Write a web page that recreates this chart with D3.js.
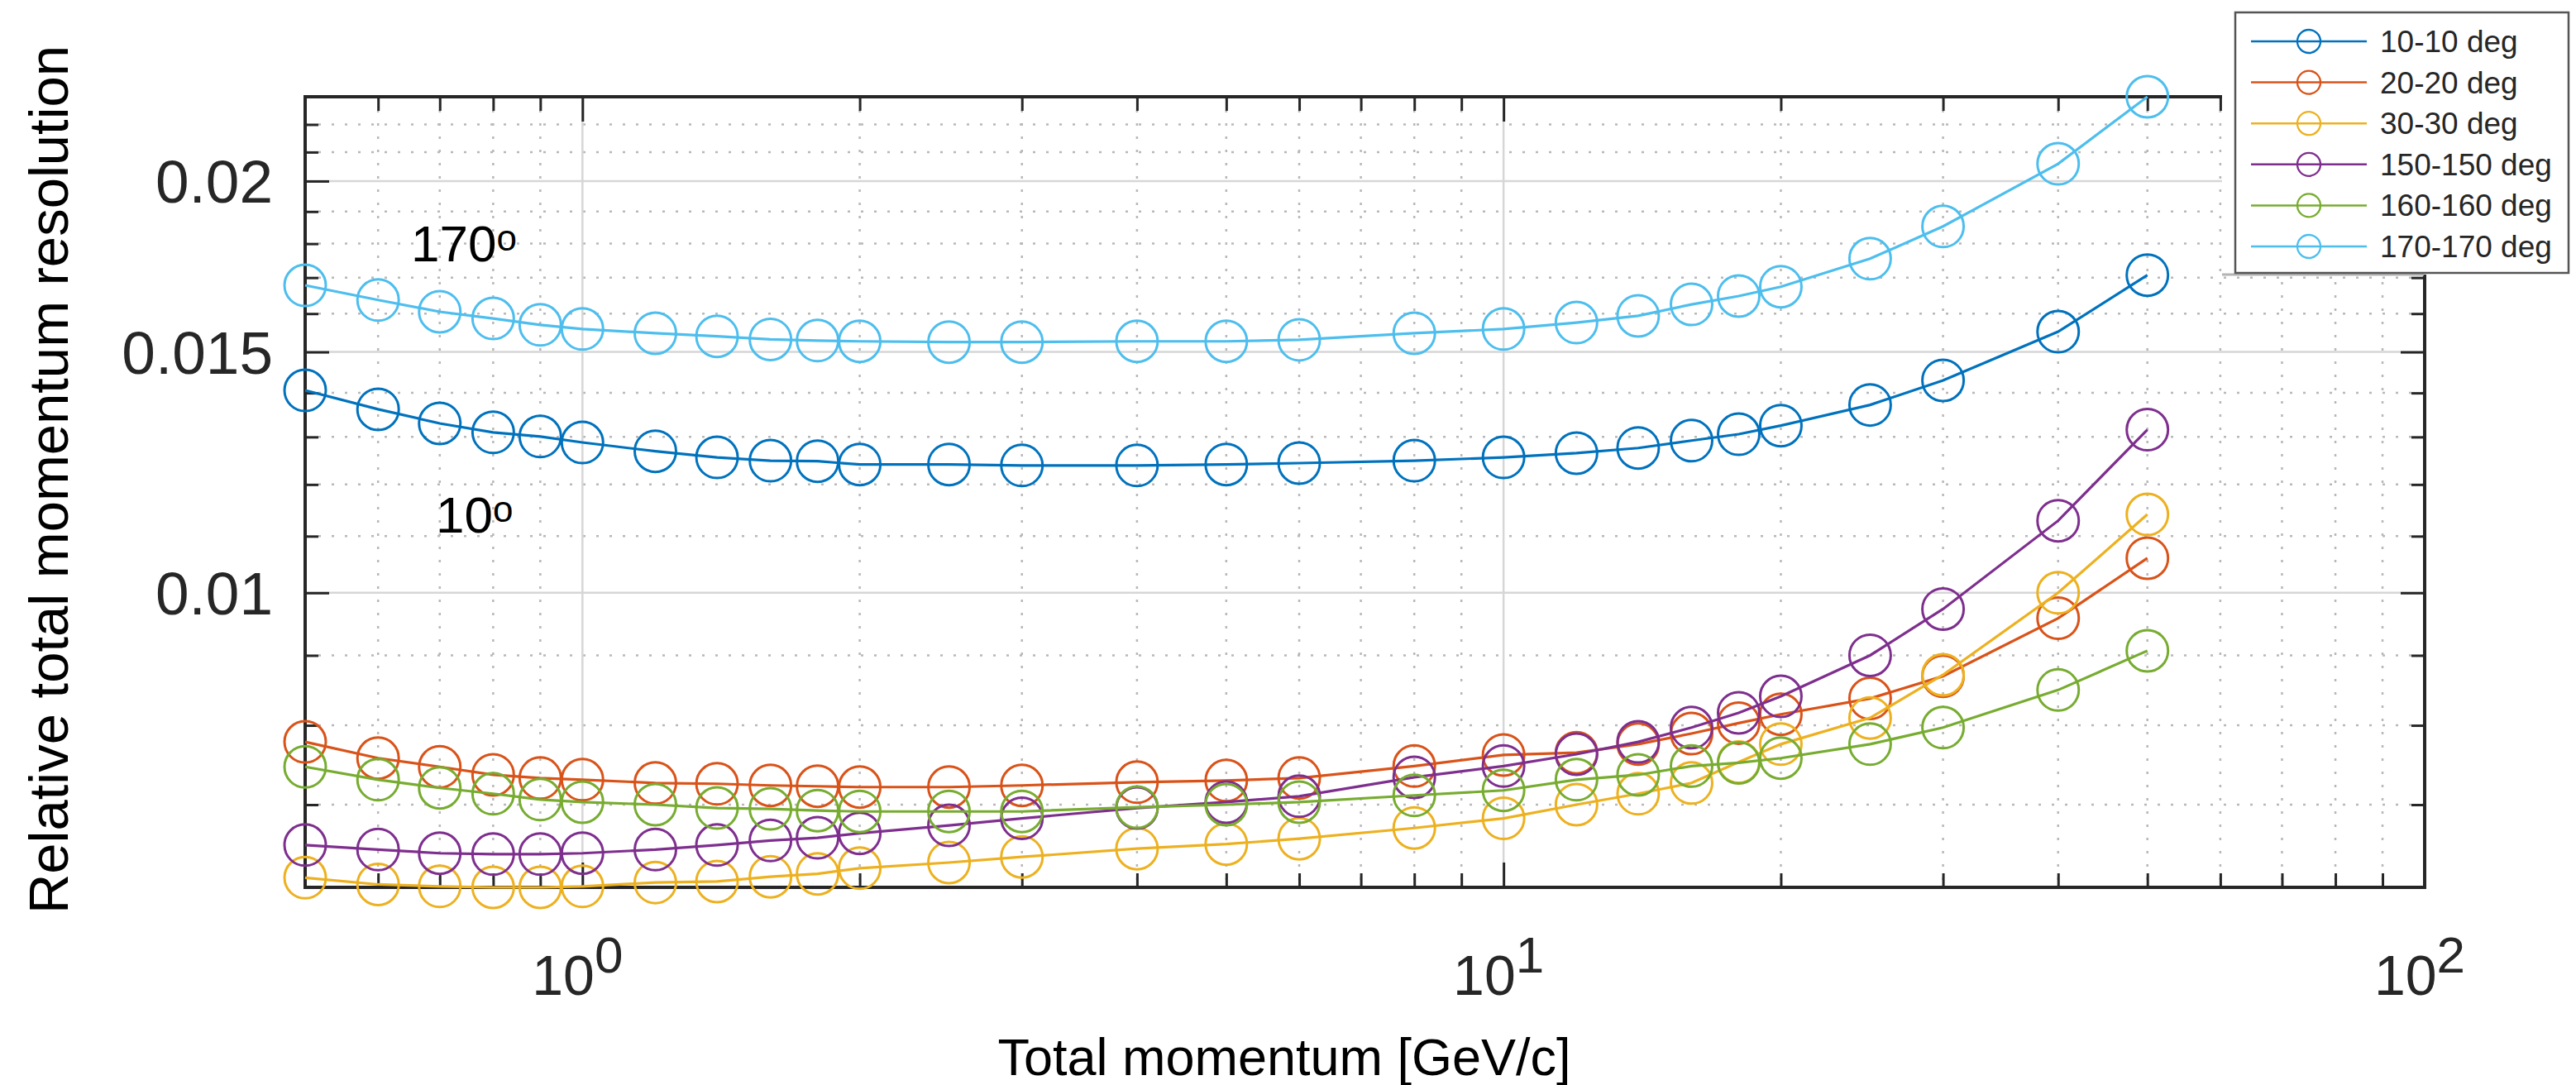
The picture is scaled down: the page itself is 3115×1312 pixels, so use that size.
<!DOCTYPE html>
<html>
<head>
<meta charset="utf-8">
<script src="https://cdn.jsdelivr.net/npm/d3@7"></script>
<style>
  body { margin: 0; background: #fff; }
  svg { display: block; font-family: "Liberation Sans", Arial, Helvetica, sans-serif; }
</style>
</head>
<body>
<div id="chart"></div>
<script>
"use strict";

// total momentum [GeV/c]
var momenta = [0.5, 0.6, 0.7, 0.8, 0.9, 1, 1.2, 1.4, 1.6, 1.8, 2, 2.5, 3, 4, 5, 6, 8, 10, 12, 14, 16, 18, 20, 25, 30, 40, 50];

// relative total momentum resolution, one array per angle pair
var res10  = [0.01406, 0.01362, 0.01330, 0.01310, 0.01301, 0.01288, 0.01269, 0.01256, 0.01249, 0.01248, 0.01241, 0.01241, 0.01239, 0.01239, 0.01241, 0.01244, 0.01249, 0.01256, 0.01265, 0.01276, 0.01292, 0.01306, 0.01325, 0.01372, 0.01430, 0.01552, 0.01707];
var res20  = [0.00778, 0.00757, 0.00746, 0.00736, 0.00732, 0.00730, 0.00726, 0.00725, 0.00723, 0.00722, 0.00721, 0.00721, 0.00723, 0.00727, 0.00729, 0.00732, 0.00747, 0.00761, 0.00764, 0.00775, 0.00789, 0.00803, 0.00815, 0.00837, 0.00869, 0.00958, 0.01060];
var res30  = [0.00619, 0.00612, 0.00610, 0.00609, 0.00609, 0.00610, 0.00614, 0.00615, 0.00620, 0.00623, 0.00629, 0.00635, 0.00641, 0.00650, 0.00655, 0.00661, 0.00673, 0.00684, 0.00700, 0.00713, 0.00726, 0.00752, 0.00775, 0.00810, 0.00871, 0.01000, 0.01141];
var res150 = [0.00654, 0.00649, 0.00645, 0.00644, 0.00644, 0.00645, 0.00649, 0.00654, 0.00659, 0.00662, 0.00667, 0.00676, 0.00684, 0.00696, 0.00703, 0.00710, 0.00733, 0.00747, 0.00762, 0.00778, 0.00797, 0.00817, 0.00840, 0.00900, 0.00973, 0.01129, 0.01316];
var res160 = [0.00746, 0.00730, 0.00720, 0.00713, 0.00706, 0.00703, 0.00700, 0.00696, 0.00695, 0.00693, 0.00692, 0.00692, 0.00692, 0.00697, 0.00700, 0.00703, 0.00711, 0.00717, 0.00730, 0.00736, 0.00747, 0.00751, 0.00757, 0.00775, 0.00797, 0.00849, 0.00907];
var res170 = [0.01678, 0.01637, 0.01605, 0.01587, 0.01570, 0.01559, 0.01548, 0.01540, 0.01532, 0.01529, 0.01527, 0.01525, 0.01525, 0.01527, 0.01527, 0.01531, 0.01548, 0.01559, 0.01576, 0.01594, 0.01625, 0.01648, 0.01674, 0.01755, 0.01853, 0.02059, 0.02305];

var seriesNames = ["10-10 deg", "20-20 deg", "30-30 deg", "150-150 deg", "160-160 deg", "170-170 deg"];
var seriesValues = [res10, res20, res30, res150, res160, res170];
var seriesColors = ["#0072BD", "#D95319", "#EDB120", "#7E2F8E", "#77AC30", "#4DBEEE"];

var yTicks = [0.01, 0.015, 0.02];
var yTickLabels = ["0.01", "0.015", "0.02"];
var yMinor = [0.007, 0.008, 0.009, 0.011, 0.012, 0.013, 0.014, 0.016, 0.017, 0.018, 0.019, 0.021, 0.022];
var xTicks = [1, 10, 100];
var xTickExponents = ["0", "1", "2"];
var xMinor = [0.6, 0.7, 0.8, 0.9, 2, 3, 4, 5, 6, 7, 8, 9, 20, 30, 40, 50, 60, 70, 80, 90];

var svg = d3.select("#chart").append("svg")
    .attr("width", 3115)
    .attr("height", 1312),
    margin = { top: 117, right: 183, bottom: 239, left: 369 },
    width = +svg.attr("width") - margin.left - margin.right,
    height = +svg.attr("height") - margin.top - margin.bottom;

svg.append("rect").attr("width", 3115).attr("height", 1312).attr("fill", "#fff");

var x = d3.scaleLog().domain([0.5, 100]).range([0, width]),
    y = d3.scaleLog().domain([0.00609, 0.02305]).range([height, 0]);

var g = svg.append("g")
    .attr("transform", "translate(" + margin.left + "," + margin.top + ")");

// grid: dotted minor lines first, solid major lines on top
var grid = g.append("g").attr("class", "grid");
grid.selectAll(".xminor").data(xMinor).enter().append("line")
    .attr("x1", function (d) { return x(d); }).attr("x2", function (d) { return x(d); })
    .attr("y1", 0).attr("y2", height)
    .attr("stroke", "#b8b8b8").attr("stroke-width", 2.5).attr("stroke-dasharray", "3 13");
grid.selectAll(".yminor").data(yMinor).enter().append("line")
    .attr("x1", 0).attr("x2", width)
    .attr("y1", function (d) { return y(d); }).attr("y2", function (d) { return y(d); })
    .attr("stroke", "#b8b8b8").attr("stroke-width", 2.5).attr("stroke-dasharray", "3 13");
grid.selectAll(".xmajor").data(xTicks.slice(0, 2)).enter().append("line")
    .attr("x1", function (d) { return x(d); }).attr("x2", function (d) { return x(d); })
    .attr("y1", 0).attr("y2", height)
    .attr("stroke", "#d6d6d6").attr("stroke-width", 2.5);
grid.selectAll(".ymajor").data(yTicks).enter().append("line")
    .attr("x1", 0).attr("x2", width)
    .attr("y1", function (d) { return y(d); }).attr("y2", function (d) { return y(d); })
    .attr("stroke", "#d6d6d6").attr("stroke-width", 2.5);

// ticks on all four sides, pointing inwards
function styleAxis(sel) {
    sel.select(".domain").remove();
    sel.selectAll(".tick line").attr("stroke", "#262626").attr("stroke-width", 3);
    sel.selectAll(".tick text").remove();
}
g.append("g").attr("transform", "translate(0," + height + ")")
    .call(d3.axisBottom(x).tickValues(xMinor).tickSize(-17)).call(styleAxis);
g.append("g").attr("transform", "translate(0," + height + ")")
    .call(d3.axisBottom(x).tickValues(xTicks).tickSize(-30)).call(styleAxis);
g.append("g")
    .call(d3.axisTop(x).tickValues(xMinor).tickSize(-17)).call(styleAxis);
g.append("g")
    .call(d3.axisTop(x).tickValues(xTicks).tickSize(-30)).call(styleAxis);
g.append("g")
    .call(d3.axisLeft(y).tickValues(yMinor).tickSize(-16)).call(styleAxis);
g.append("g")
    .call(d3.axisLeft(y).tickValues(yTicks).tickSize(-29)).call(styleAxis);
g.append("g").attr("transform", "translate(" + width + ",0)")
    .call(d3.axisRight(y).tickValues(yMinor).tickSize(-16)).call(styleAxis);
g.append("g").attr("transform", "translate(" + width + ",0)")
    .call(d3.axisRight(y).tickValues(yTicks).tickSize(-29)).call(styleAxis);

g.append("rect")
    .attr("width", width).attr("height", height)
    .attr("fill", "none").attr("stroke", "#262626").attr("stroke-width", 4);

// tick labels
g.selectAll(".ylabel").data(yTicks).enter().append("text")
    .attr("x", -39)
    .attr("y", function (d) { return y(d) + 26; })
    .attr("text-anchor", "end")
    .attr("font-size", "73px")
    .attr("fill", "#262626")
    .text(function (d, i) { return yTickLabels[i]; });

var xl = g.selectAll(".xlabel").data(xTicks).enter().append("text")
    .attr("x", function (d) { return x(d) - 6; })
    .attr("y", height + 130)
    .attr("text-anchor", "middle")
    .attr("font-size", "68px")
    .attr("fill", "#262626");
xl.append("tspan").text("10");
xl.append("tspan").attr("dy", -27).attr("font-size", "62px")
    .text(function (d, i) { return xTickExponents[i]; });

// series
var line = d3.line()
    .x(function (d) { return x(d[0]); })
    .y(function (d) { return y(d[1]); });

seriesValues.forEach(function (vals, i) {
    var pts = momenta.map(function (m, j) { return [m, vals[j]]; });
    g.append("path")
        .datum(pts)
        .attr("d", line)
        .attr("fill", "none")
        .attr("stroke", seriesColors[i])
        .attr("stroke-width", 3.2);
    g.selectAll(".m" + i).data(pts).enter().append("circle")
        .attr("cx", function (d) { return x(d[0]); })
        .attr("cy", function (d) { return y(d[1]); })
        .attr("r", 25)
        .attr("fill", "none")
        .attr("stroke", seriesColors[i])
        .attr("stroke-width", 3);
});

// legend sits on a white patch that hides the plot's top-right corner
svg.append("rect").attr("x", 2687).attr("y", 0).attr("width", 428).attr("height", 332).attr("fill", "#fff");
svg.append("line").attr("x1", 2687).attr("x2", 2931).attr("y1", 332).attr("y2", 332)
    .attr("stroke", "#b4b4b4").attr("stroke-width", 3);

var legend = svg.append("g");
legend.append("rect")
    .attr("x", 2703).attr("y", 15).attr("width", 403).attr("height", 315)
    .attr("fill", "#fff").attr("stroke", "#555").attr("stroke-width", 2.5);
seriesNames.forEach(function (name, i) {
    var ly = 50 + i * 49.6;
    legend.append("line").attr("x1", 2722).attr("x2", 2862).attr("y1", ly).attr("y2", ly)
        .attr("stroke", seriesColors[i]).attr("stroke-width", 2.5);
    legend.append("circle").attr("cx", 2792).attr("cy", ly).attr("r", 14)
        .attr("fill", "none").attr("stroke", seriesColors[i]).attr("stroke-width", 2.3);
    legend.append("text").attr("x", 2878).attr("y", ly + 13)
        .attr("font-size", "37px").attr("fill", "#262626").text(name);
});

// axis titles
svg.append("text")
    .attr("x", 1553).attr("y", 1300)
    .attr("text-anchor", "middle")
    .attr("font-size", "63px")
    .attr("fill", "#000")
    .text("Total momentum [GeV/c]");

svg.append("text")
    .attr("transform", "translate(82,580) rotate(-90)")
    .attr("text-anchor", "middle")
    .attr("font-size", "67px")
    .attr("fill", "#000")
    .text("Relative total momentum resolution");

// angle annotations
var a170 = svg.append("text").attr("x", 497).attr("y", 316).attr("font-size", "62px").attr("fill", "#000");
a170.append("tspan").text("170");
a170.append("tspan").attr("dy", -13).attr("font-size", "44px").text("o");

var a10 = svg.append("text").attr("x", 527).attr("y", 644).attr("font-size", "62px").attr("fill", "#000");
a10.append("tspan").text("10");
a10.append("tspan").attr("dy", -13).attr("font-size", "44px").text("o");
</script>
</body>
</html>
